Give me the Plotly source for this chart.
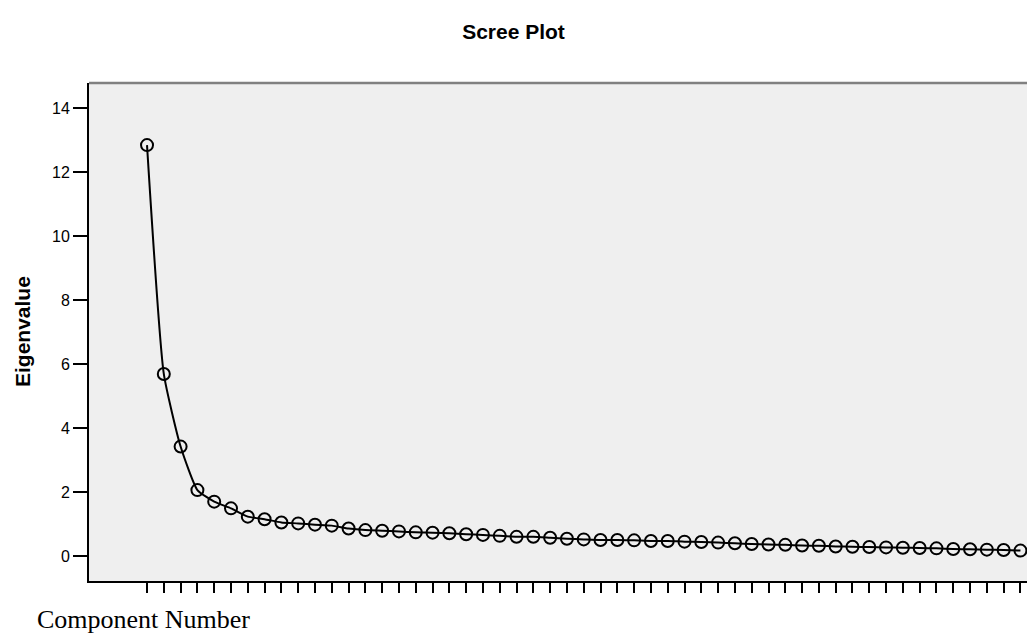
import plotly.graph_objects as go

components = list(range(1, 54))
eigenvalues = [12.84, 5.69, 3.42, 2.06, 1.70, 1.49, 1.23, 1.15, 1.05, 1.02,
               0.98, 0.95, 0.86, 0.81, 0.79, 0.77, 0.74, 0.73, 0.71, 0.68,
               0.66, 0.63, 0.60, 0.60, 0.57, 0.54, 0.52, 0.50, 0.50, 0.49,
               0.47, 0.47, 0.45, 0.44, 0.42, 0.40, 0.375, 0.36, 0.35, 0.33,
               0.32, 0.30, 0.29, 0.28, 0.27, 0.26, 0.25, 0.24, 0.22, 0.21,
               0.20, 0.19, 0.17]
y_ticks = [0, 2, 4, 6, 8, 10, 12, 14]

fig = go.Figure()
fig.add_trace(go.Scatter(
    x=components, y=eigenvalues, mode="lines+markers",
    line=dict(color="black", width=2, shape="spline", smoothing=0.5),
    marker=dict(symbol="circle-open", size=12, color="black",
                line=dict(width=2, color="black")),
    showlegend=False, hoverinfo="x+y"))

fig.update_layout(
    width=1027, height=638,
    margin=dict(l=89, r=0, t=83, b=57),
    paper_bgcolor="white", plot_bgcolor="#efefef",
    title=dict(text="<b>Scree Plot</b>", x=0.5, xanchor="center",
               y=0.95, yanchor="middle",
               font=dict(family="Liberation Sans, Arial", size=21, color="black")),
    xaxis=dict(range=[-2.454, 53.39], tickvals=components, ticktext=[""] * len(components),
               ticks="outside", ticklen=10, tickwidth=2, tickcolor="black",
               showline=True, linecolor="black", linewidth=2,
               showgrid=False, zeroline=False, fixedrange=True),
    yaxis=dict(range=[-0.78, 14.78], tickvals=y_ticks,
               ticks="outside", ticklen=14, tickwidth=2, tickcolor="black",
               showline=True, linecolor="black", linewidth=2,
               showgrid=False, zeroline=False,
               tickfont=dict(family="Liberation Sans, Arial", size=16, color="black")),
    shapes=[dict(type="line", xref="paper", yref="paper", x0=0, x1=1, y0=1, y1=1,
                 line=dict(color="#808080", width=2.5))],
    annotations=[
        dict(text="<b>Eigenvalue</b>", xref="paper", yref="paper",
             x=-0.0714, y=0.5, xanchor="center", yanchor="middle", textangle=-90,
             showarrow=False,
             font=dict(family="Liberation Sans, Arial", size=21, color="black")),
        dict(text="Component Number", xref="paper", yref="paper",
             x=-0.058, y=-0.078, xanchor="left", yanchor="middle", showarrow=False,
             font=dict(family="Liberation Serif, Times New Roman, serif", size=26, color="black")),
    ],
)

fig.write_html("out.html", config={"displayModeBar": False},
               post_script="document.body.style.margin='0';")
